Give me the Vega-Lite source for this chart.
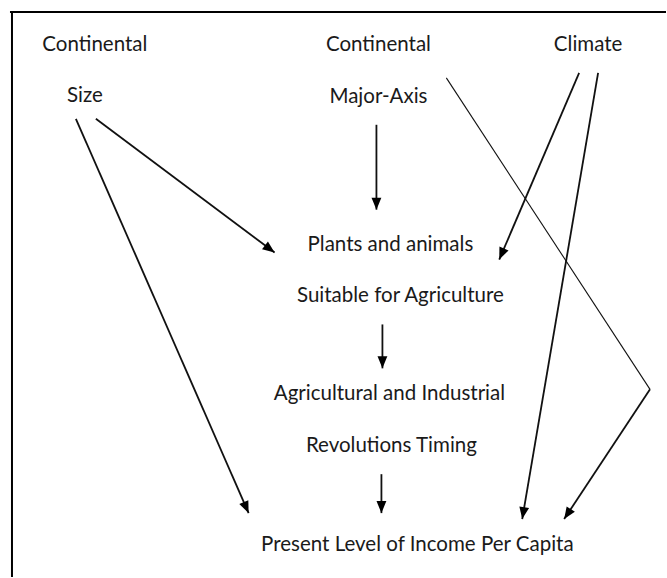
{
  "$schema": "https://vega.github.io/schema/vega-lite/v6.json",
  "width": 667,
  "height": 578,
  "autosize": {"type": "fit", "contains": "padding"},
  "padding": 0,
  "background": "white",
  "config": {"view": {"stroke": null}},
  "datasets": {
    "labels": [
      {"label": "Continental", "x": 95, "y": 45},
      {"label": "Size", "x": 85, "y": 96},
      {"label": "Continental", "x": 379, "y": 45},
      {"label": "Major-Axis", "x": 379, "y": 97},
      {"label": "Climate", "x": 589, "y": 45},
      {"label": "Plants and animals", "x": 391, "y": 245},
      {"label": "Suitable for Agriculture", "x": 401, "y": 297},
      {"label": "Agricultural and Industrial", "x": 390, "y": 395},
      {"label": "Revolutions Timing", "x": 392, "y": 447},
      {"label": "Present Level of Income Per Capita", "x": 418, "y": 546}
    ],
    "links": [
      {"link": "Size → Plants", "kind": "arrow", "x": 96, "y": 119, "x2": 275, "y2": 253},
      {"link": "Size → Income", "kind": "arrow", "x": 76, "y": 119, "x2": 249, "y2": 514},
      {"link": "Major-Axis → Plants", "kind": "arrow", "x": 377, "y": 125, "x2": 377, "y2": 210},
      {"link": "Climate → Plants", "kind": "arrow", "x": 580, "y": 73, "x2": 500, "y2": 260},
      {"link": "Climate → Income", "kind": "arrow", "x": 599, "y": 73, "x2": 523, "y2": 520},
      {"link": "Major-Axis → Income (first leg)", "kind": "connector", "x": 447, "y": 78, "x2": 651, "y2": 390},
      {"link": "Major-Axis → Income", "kind": "arrow", "x": 651, "y": 390, "x2": 565, "y2": 520},
      {"link": "Plants → Revolutions", "kind": "arrow", "x": 383, "y": 325, "x2": 383, "y2": 369},
      {"link": "Revolutions → Income", "kind": "arrow", "x": 382, "y": 475, "x2": 382, "y2": 514}
    ],
    "frame": [
      {"edge": "top", "x": 10, "y": 12, "x2": 667, "y2": 12},
      {"edge": "left", "x": 12, "y": 12, "x2": 12, "y2": 578}
    ]
  },
  "resolve": {"scale": {"x": "shared", "y": "shared"}},
  "layer": [
    {
      "data": {"name": "frame"},
      "mark": {"type": "rule", "color": "#000", "strokeWidth": 2},
      "encoding": {
        "x": {"field": "x", "type": "quantitative", "scale": {"domain": [0, 667], "nice": false, "zero": false}, "axis": null},
        "y": {"field": "y", "type": "quantitative", "scale": {"domain": [0, 578], "nice": false, "zero": false, "reverse": true}, "axis": null},
        "x2": {"field": "x2"},
        "y2": {"field": "y2"}
      }
    },
    {
      "data": {"name": "links"},
      "mark": {"type": "rule", "color": "#111"},
      "encoding": {
        "x": {"field": "x", "type": "quantitative", "axis": null},
        "y": {"field": "y", "type": "quantitative", "axis": null},
        "x2": {"field": "x2"},
        "y2": {"field": "y2"},
        "strokeWidth": {"field": "kind", "type": "nominal", "scale": {"domain": ["arrow", "connector"], "range": [1.8, 1.1]}, "legend": null}
      }
    },
    {
      "data": {"name": "links"},
      "transform": [
        {"filter": "datum.kind === 'arrow'"},
        {"calculate": "atan2(datum.x2 - datum.x, datum.y2 - datum.y) * 180 / PI", "as": "heading"}
      ],
      "mark": {"type": "point", "filled": true, "color": "#000", "opacity": 1, "size": 144, "shape": "M0,0L-0.82,-2L0.82,-2Z"},
      "encoding": {
        "x": {"field": "x2", "type": "quantitative", "axis": null},
        "y": {"field": "y2", "type": "quantitative", "axis": null},
        "angle": {"field": "heading", "type": "quantitative", "scale": {"domain": [0, 360], "range": [360, 0]}}
      }
    },
    {
      "data": {"name": "labels"},
      "mark": {"type": "text", "font": "Lato", "fontSize": 20.5, "color": "#1a1a1a", "align": "center", "baseline": "middle"},
      "encoding": {
        "x": {"field": "x", "type": "quantitative", "axis": null},
        "y": {"field": "y", "type": "quantitative", "axis": null},
        "text": {"field": "label"}
      }
    }
  ]
}
